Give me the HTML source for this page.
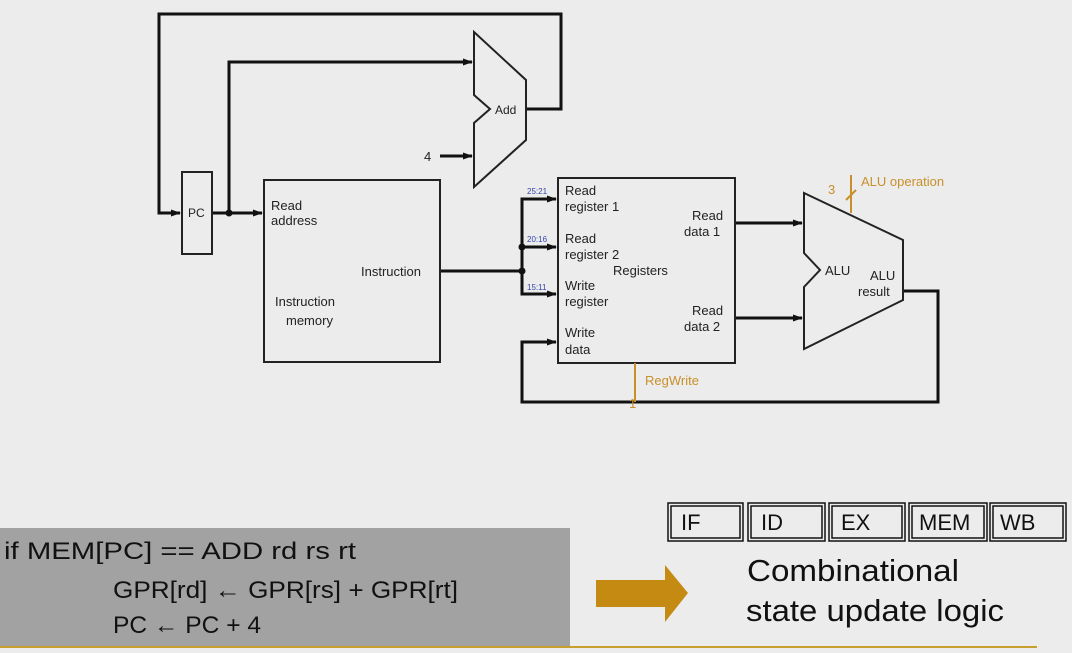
<!DOCTYPE html>
<html><head><meta charset="utf-8"><style>
html,body{margin:0;padding:0;width:1072px;height:653px;overflow:hidden;background:#ececec}
svg{display:block}
.t{font-family:"Liberation Sans",Arial,sans-serif;font-size:13px;fill:#222}
.c{font-family:"Liberation Sans",sans-serif;fill:#111}
</style></head><body>
<svg width="1072" height="653" viewBox="0 0 1072 653" xmlns="http://www.w3.org/2000/svg">
<defs><marker id="a" markerWidth="10" markerHeight="10" refX="9" refY="5" orient="auto" markerUnits="userSpaceOnUse"><path d="M0,1.5 L10,5 L0,8.5z" fill="#111"/></marker></defs>
<rect width="1072" height="653" fill="#ececec"/>
<g fill="none" stroke="#111" stroke-width="3">
<polyline points="526,109 561,109 561,14 159,14 159,213 180,213" marker-end="url(#a)"/>
<line x1="212" y1="213" x2="262" y2="213" marker-end="url(#a)"/>
<polyline points="229,213 229,62 472,62" marker-end="url(#a)"/>
<line x1="440" y1="156" x2="472" y2="156" marker-end="url(#a)"/>
<line x1="440" y1="271" x2="522" y2="271"/>
<polyline points="522,247 522,199 556,199" marker-end="url(#a)"/>
<line x1="522" y1="247" x2="556" y2="247" marker-end="url(#a)"/>
<polyline points="522,247 522,294 556,294" marker-end="url(#a)"/>
<polyline points="903,291 938,291 938,402 522,402 522,342 556,342" marker-end="url(#a)"/>
<line x1="735" y1="223" x2="802" y2="223" marker-end="url(#a)"/>
<line x1="735" y1="318" x2="802" y2="318" marker-end="url(#a)"/>
</g>
<g fill="#111"><circle cx="229" cy="213" r="3.5"/><circle cx="522" cy="271" r="3.5"/><circle cx="522" cy="247" r="3.5"/></g>
<g fill="none" stroke="#222" stroke-width="2">
<rect x="182" y="172" width="30" height="82"/>
<rect x="264" y="180" width="176" height="182"/>
<rect x="558" y="178" width="177" height="185"/>
<polygon points="474,32 526,80 526,140 474,187 474,123 490,109 474,95"/>
<polygon points="804,193 903,240 903,300 804,349 804,287 820,270 804,253"/>
</g>
<g stroke="#c8902a" stroke-width="2" fill="none">
<line x1="851" y1="175" x2="851" y2="213"/><line x1="846" y1="200" x2="856" y2="190"/>
<line x1="635" y1="363" x2="635" y2="402"/>
</g>
<g class="t">
<text x="188" y="217" font-size="12">PC</text>
<text x="495" y="114" font-size="12">Add</text>
<text x="424" y="161">4</text>
<text x="271" y="210">Read</text><text x="271" y="225">address</text>
<text x="361" y="276">Instruction</text>
<text x="275" y="306">Instruction</text><text x="286" y="325">memory</text>
<text x="565" y="195">Read</text><text x="565" y="211">register 1</text>
<text x="565" y="243">Read</text><text x="565" y="259">register 2</text>
<text x="613" y="275">Registers</text>
<text x="565" y="290">Write</text><text x="565" y="306">register</text>
<text x="565" y="337">Write</text><text x="565" y="354">data</text>
<text x="692" y="220">Read</text><text x="684" y="236">data 1</text>
<text x="692" y="315">Read</text><text x="684" y="331">data 2</text>
<text x="825" y="275">ALU</text>
<text x="870" y="280">ALU</text><text x="858" y="296">result</text>
<text x="861" y="186" fill="#c8902a">ALU operation</text>
<text x="828" y="194" fill="#c8902a">3</text>
<text x="645" y="385" fill="#c8902a">RegWrite</text>
<text x="629" y="408" fill="#c8902a">1</text>
<text x="527" y="194" font-size="8" fill="#3344aa">25:21</text>
<text x="527" y="242" font-size="8" fill="#3344aa">20:16</text>
<text x="527" y="290" font-size="8" fill="#3344aa">15:11</text>
</g>
<rect x="0" y="528" width="570" height="118" fill="#a2a2a2"/>
<line x1="0" y1="647" x2="1037" y2="647" stroke="#c8a030" stroke-width="2"/>
<g class="c" font-size="24">
<text x="4" y="559" textLength="352" lengthAdjust="spacingAndGlyphs">if MEM[PC] == ADD rd rs rt</text>
<text x="113" y="598" textLength="345" lengthAdjust="spacingAndGlyphs">GPR[rd] ← GPR[rs] + GPR[rt]</text>
<text x="113" y="633" textLength="148" lengthAdjust="spacingAndGlyphs">PC ← PC + 4</text>
</g>
<polygon points="596,580 665,580 665,565 688,593 665,622 665,607 596,607" fill="#c48a12"/>
<g fill="none" stroke="#111" stroke-width="1.5">
<rect x="668" y="503" width="75" height="38"/><rect x="671" y="506" width="69" height="32"/>
<rect x="748" y="503" width="77" height="38"/><rect x="751" y="506" width="71" height="32"/>
<rect x="829" y="503" width="76" height="38"/><rect x="832" y="506" width="70" height="32"/>
<rect x="909" y="503" width="78" height="38"/><rect x="912" y="506" width="72" height="32"/>
<rect x="990" y="503" width="76" height="38"/><rect x="993" y="506" width="70" height="32"/>
</g>
<g class="c" font-size="22">
<text x="681" y="530">IF</text><text x="761" y="530">ID</text><text x="841" y="530">EX</text><text x="919" y="530">MEM</text><text x="1000" y="530">WB</text>
</g>
<g class="c" font-size="31">
<text x="747" y="581" textLength="212" lengthAdjust="spacingAndGlyphs">Combinational</text>
<text x="746" y="621" textLength="258" lengthAdjust="spacingAndGlyphs">state update logic</text>
</g>
</svg>
</body></html>
